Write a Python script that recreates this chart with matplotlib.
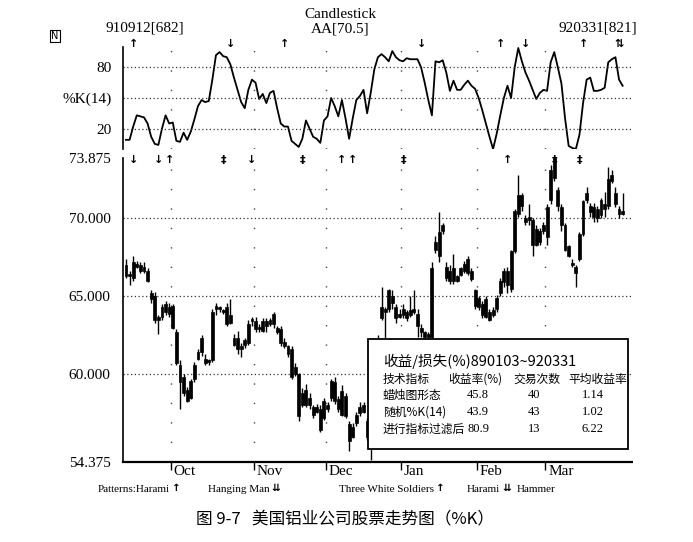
import numpy as np
import matplotlib
matplotlib.use("Agg")
import matplotlib.pyplot as plt
from matplotlib.patches import Rectangle

plt.rcParams['font.family'] = ['Liberation Serif', 'DejaVu Sans']
cjk = ['Noto Sans CJK SC', 'DejaVu Sans']
sym = ['DejaVu Sans']

# daily OHLC for AA, 910912 .. 920331 (trading day index 0..138)
opens = [67.0, 66.3, 66.2, 67.1, 66.6, 66.9, 66.6,
         65.2, 65.0, 63.5, 63.7, 64.0, 64.3, 64.4,
         62.7, 60.6, 59.8, 59.0, 58.5, 59.7, 61.0,
         61.4, 61.0, 60.8, 60.9, 64.2, 64.3, 64.1,
         64.3, 63.8, 62.3, 62.3, 61.8, 61.9, 62.0,
         63.4, 63.4, 62.9, 62.8, 63.1, 63.2, 63.9,
         63.0, 62.9, 62.1, 61.8, 61.6, 60.5, 60.0,
         58.8, 58.0, 58.5, 57.9, 57.6, 57.8, 57.2,
         58.0, 58.5, 59.5, 58.4, 58.9, 58.6, 56.8,
         56.0, 56.9, 57.5, 58.0, 57.0, 56.2, 57.8,
         60.4, 63.6, 64.2, 64.2, 65.0, 64.3, 63.9,
         64.2, 64.0, 63.8, 64.0, 63.9, 63.0, 62.7,
         62.6, 62.4, 68.0, 67.6, 69.2, 66.9, 66.6,
         66.8, 66.3, 66.4, 66.6, 67.4, 66.6, 65.4,
         64.9, 64.5, 63.7, 64.0, 63.8, 64.2, 65.2,
         65.9, 66.6, 65.5, 67.9, 70.3, 71.5, 70.0,
         69.9, 69.9, 68.3, 69.2, 69.2, 68.8, 71.2,
         72.6, 71.8, 70.7, 69.6, 68.2, 67.0, 66.9,
         67.4, 69.0, 71.2, 70.8, 70.7, 70.0, 70.2,
         70.6, 70.8, 72.4, 71.6, 70.6, 70.5]
closes = [66.3, 66.4, 67.2, 66.9, 67.0, 66.6, 66.0,
          64.8, 63.5, 63.7, 64.3, 64.5, 63.9, 63.0,
          60.7, 59.5, 58.8, 58.3, 59.6, 60.6, 61.4,
          62.3, 60.7, 60.9, 64.0, 64.4, 64.2, 64.0,
          63.2, 63.3, 61.9, 61.6, 61.6, 62.2, 63.2,
          63.5, 62.9, 63.0, 63.4, 63.4, 63.5, 63.2,
          62.7, 62.0, 61.8, 61.3, 59.8, 60.0, 57.3,
          58.0, 59.0, 58.0, 57.4, 57.9, 56.4, 58.3,
          57.8, 59.6, 58.3, 57.8, 57.4, 57.3, 55.7,
          56.6, 57.4, 57.9, 57.6, 56.0, 57.5, 60.5,
          62.0, 64.3, 64.0, 65.4, 64.6, 63.6, 63.7,
          63.8, 63.6, 64.1, 64.2, 63.1, 62.7, 62.4,
          62.4, 66.8, 68.5, 69.1, 69.6, 66.2, 66.0,
          66.0, 66.0, 66.8, 67.1, 66.5, 66.1, 64.4,
          64.3, 63.8, 64.8, 63.5, 64.1, 64.9, 66.0,
          66.6, 65.7, 67.9, 70.5, 71.5, 70.8, 69.8,
          70.1, 68.3, 69.3, 68.5, 69.6, 70.7, 73.1,
          73.9, 70.8, 69.6, 68.0, 67.6, 67.1, 66.5,
          69.0, 71.1, 71.6, 70.4, 70.1, 70.6, 71.2,
          70.9, 72.5, 72.8, 70.9, 70.3, 70.3]
highs = [67.4, 66.6, 67.6, 67.3, 67.2, 67.2, 66.8,
         65.4, 65.3, 63.8, 64.5, 64.7, 64.6, 64.5,
         62.9, 60.9, 60.0, 59.2, 59.7, 60.8, 61.6,
         62.5, 61.3, 61.0, 64.2, 64.6, 64.4, 64.2,
         64.6, 64.8, 62.6, 62.8, 62.0, 62.3, 63.5,
         63.7, 63.7, 63.2, 63.6, 63.6, 63.6, 64.0,
         63.1, 63.1, 62.3, 61.9, 61.8, 60.7, 60.1,
         59.1, 59.4, 58.8, 58.0, 58.1, 58.0, 58.5,
         58.2, 59.7, 59.8, 58.6, 59.3, 58.8, 57.0,
         56.9, 57.6, 58.2, 58.2, 57.2, 57.8, 60.7,
         62.5, 65.6, 64.3, 65.5, 65.4, 64.5, 64.2,
         64.5, 64.1, 65.0, 65.4, 64.2, 63.2, 62.8,
         62.7, 67.2, 68.9, 70.4, 69.7, 67.2, 67.0,
         67.7, 66.4, 66.9, 67.3, 67.6, 66.8, 65.5,
         65.0, 64.7, 65.0, 64.2, 64.3, 65.1, 66.2,
         66.8, 66.9, 68.0, 70.6, 72.8, 71.6, 70.2,
         70.9, 70.0, 69.6, 69.4, 69.8, 70.9, 73.4,
         74.0, 72.0, 70.9, 69.7, 68.3, 67.4, 67.0,
         69.1, 71.2, 72.0, 71.0, 71.0, 70.8, 71.3,
         71.7, 73.3, 73.1, 72.0, 70.8, 71.6]
lows = [66.2, 65.7, 66.0, 66.8, 66.5, 66.5, 65.9,
        64.6, 63.3, 62.6, 63.5, 63.8, 63.7, 62.9,
        60.6, 57.8, 58.6, 58.2, 58.4, 59.5, 60.9,
        61.2, 60.6, 60.6, 60.8, 63.8, 64.0, 63.9,
        63.1, 63.2, 61.8, 61.3, 61.1, 61.7, 61.9,
        63.1, 62.7, 62.7, 62.7, 62.7, 63.1, 63.0,
        62.6, 61.8, 61.7, 61.1, 59.7, 59.9, 57.0,
        57.9, 57.9, 57.8, 57.2, 57.5, 56.3, 57.1,
        57.6, 58.3, 58.1, 57.6, 57.3, 57.2, 55.1,
        55.9, 56.7, 57.3, 57.5, 55.8, 54.5, 57.6,
        60.2, 63.5, 62.3, 64.0, 64.2, 63.3, 63.6,
        63.6, 63.4, 63.7, 63.9, 62.4, 62.4, 62.3,
        62.3, 62.3, 67.8, 67.2, 69.0, 66.0, 65.8,
        65.8, 65.9, 66.3, 66.5, 66.4, 66.0, 64.2,
        64.1, 63.6, 63.6, 63.4, 63.7, 64.0, 65.0,
        65.6, 65.2, 65.3, 67.8, 70.1, 70.5, 69.6,
        69.6, 67.6, 68.2, 68.3, 69.0, 68.3, 70.9,
        72.4, 70.5, 69.2, 67.9, 67.5, 66.9, 65.6,
        67.3, 68.9, 71.0, 70.1, 69.8, 69.8, 70.0,
        70.1, 70.6, 72.3, 70.7, 70.0, 70.2]

# stochastic %K(14)
pct_k = [9, 9, 22, 33, 32, 31, 25, 12, 5, 4,
         20, 33, 25, 26, 8, 7, 16, 9, 17, 29,
         42, 48, 46, 47, 68, 92, 95, 91, 90, 83,
         70, 58, 46, 40, 58, 68, 65, 49, 54, 45,
         55, 57, 40, 25, 22, 22, 8, 5, 2, 10,
         28, 20, 12, 10, 6, 28, 32, 50, 42, 32,
         48, 30, 10, 30, 48, 52, 58, 35, 55, 78,
         90, 93, 90, 86, 96, 90, 87, 86, 89, 88,
         88, 88, 80, 65, 48, 33, 86, 85, 87, 75,
         57, 67, 58, 58, 63, 67, 62, 59, 50, 38,
         25, 12, 0, 15, 33, 50, 62, 50, 80, 99,
         86, 75, 67, 58, 49, 55, 58, 57, 85, 95,
         80, 64, 30, 3, 1, 0, 14, 45, 68, 70,
         57, 57, 58, 60, 85, 88, 90, 68, 62]

month_names = ['Oct', 'Nov', 'Dec', 'Jan', 'Feb', 'Mar']
month_start = [13, 36, 56, 77, 98, 117]

# signal arrows (day, symbol)
k_signal_days = [2, 29, 44, 82, 104, 111, 127, 137]
k_signal_syms = ['↑', '↓', '↑', '↓', '↑', '↓', '↑', '⇅']
cs_signal_days = [2, 9, 12, 27, 35, 49, 60, 63, 77, 106, 119, 126]
cs_signal_syms = ['↓', '↓', '↑', '‡', '↓', '‡', '↑', '↑', '‡', '↑', '‡', '‡']

table_title = '收益/损失(%)890103~920331'
table_cols = ['技术指标', '收益率(%)', '交易次数', '平均收益率']
table_rows = ['蜡烛图形态', '随机%K(14)', '进行指标过滤后']
table_ret = ['45.8', '43.9', '80.9']
table_cnt = ['40', '43', '13']
table_avg = ['1.14', '1.02', '6.22']

patterns = [('Patterns:Harami', '↑'), ('Hanging Man', '⇊'),
            ('Three White Soldiers', '↑'), ('Harami', '⇊'), ('Hammer', '')]

W, H = 693, 542
def fx(px):
    return px / W
def fy(py):
    return 1 - py / H

days = np.arange(len(closes))
o = np.array(opens)
c = np.array(closes)

fig = plt.figure(figsize=(W / 100, H / 100), dpi=100)
ax_k = fig.add_axes([fx(123), fy(149), 509 / W, 102 / H])
ax = fig.add_axes([fx(123), fy(462), 509 / W, 304 / H])

xlim = (-0.83, 140.6)
month_pos = [d - 0.5 for d in month_start]

# ---- %K panel ----
ax_k.plot(days, pct_k, color='black', lw=1.3)
ax_k.set_xlim(xlim)
ax_k.set_ylim(0, 100)
for v in [20, 50, 80]:
    ax_k.axhline(v, color='#333333', lw=0.9, ls=(0, (1, 2)))
for p in month_pos:
    ax_k.axvline(p, color='#444444', lw=1.0, ls=(0, (1, 13)))
ax_k.set_yticks([20, 50, 80])
ax_k.set_yticklabels(['20', '%K(14)', '80'], fontsize=11)
ax_k.tick_params(axis='y', length=0, pad=8)
ax_k.set_xticks([])
for s in ['top', 'right', 'bottom']:
    ax_k.spines[s].set_visible(False)
ax_k.spines['left'].set_linewidth(1.2)
for d, s in zip(k_signal_days, k_signal_syms):
    ax_k.text(d, 103, s, ha='center', va='center', fontsize=8,
              fontweight='bold', family=sym, clip_on=False)

# ---- candlestick panel ----
ax.vlines(days, lows, highs, color='black', lw=1.0, zorder=2)
body = np.maximum(np.abs(c - o), 0.12)
ax.bar(days, body, bottom=np.minimum(o, c), width=0.8, color='black',
       edgecolor='black', lw=0.5, zorder=3)
ax.set_xlim(xlim)
ax.set_ylim(54.375, 73.875)
for v in [60, 65, 70]:
    ax.axhline(v, color='#333333', lw=0.9, ls=(0, (1, 2)), zorder=1)
for p in month_pos:
    ax.axvline(p, color='#444444', lw=1.0, ls=(0, (1, 13)), zorder=1)
ax.set_yticks([54.375, 60, 65, 70, 73.875])
ax.set_yticklabels(['54.375', '60.000', '65.000', '70.000', '73.875'], fontsize=11)
ax.tick_params(axis='y', length=0, pad=9)
ax.set_xticks(month_pos)
ax.set_xticklabels([])
ax.tick_params(axis='x', direction='out', length=6, width=1.0)
for s in ['top', 'right']:
    ax.spines[s].set_visible(False)
ax.spines['left'].set_linewidth(1.2)
ax.spines['bottom'].set_linewidth(1.6)
ax.spines['bottom'].set_linestyle((0, (1, 1)))
for p, name in zip(month_pos, month_names):
    ax.annotate(name, (p, 54.375), xytext=(2, -2), textcoords='offset points',
                ha='left', va='top', fontsize=11)
for d, s in zip(cs_signal_days, cs_signal_syms):
    ax.text(d, 73.72, s, ha='center', va='center', fontsize=8,
            fontweight='bold', family=sym, clip_on=False)

# ---- headers ----
fig.text(fx(340), fy(15), 'Candlestick', ha='center', va='center', fontsize=11)
fig.text(fx(340), fy(29), 'AA[70.5]', ha='center', va='center', fontsize=11)
fig.text(fx(105), fy(28), '910912[682]', ha='left', va='center', fontsize=11)
fig.text(fx(637), fy(28), '920331[821]', ha='right', va='center', fontsize=11)
fig.text(fx(55), fy(36), 'N', ha='center', va='center', fontsize=7,
         family=sym, bbox=dict(boxstyle='square,pad=0.15', fc='white', ec='black', lw=0.8))

# ---- result table ----
bx0, by0, bx1, by1 = 368, 339, 628, 449
ax.add_patch(Rectangle((fx(bx0), fy(by1)), (bx1 - bx0) / W, (by1 - by0) / H,
                       transform=fig.transFigure, facecolor='white',
                       edgecolor='black', lw=1.3, zorder=10, clip_on=False))
fig.text(fx(383), fy(361), table_title, ha='left', va='center', fontsize=10.5,
         family=cjk, zorder=11)
col_x = [383, 448, 513, 568]
for xx, t in zip(col_x, table_cols):
    fig.text(fx(xx), fy(379), t, ha='left', va='center', fontsize=8.5, family=cjk, zorder=11)
for j, (name, r, n, a) in enumerate(zip(table_rows, table_ret, table_cnt, table_avg)):
    yy = 395 + 17 * j
    fig.text(fx(383), fy(yy), name, ha='left', va='center', fontsize=8.5, family=cjk, zorder=11)
    fig.text(fx(478), fy(yy), r, ha='center', va='center', fontsize=9, zorder=11)
    fig.text(fx(534), fy(yy), n, ha='center', va='center', fontsize=9, zorder=11)
    fig.text(fx(593), fy(yy), a, ha='center', va='center', fontsize=9, zorder=11)

# ---- pattern legend ----
pat_x = [98, 208, 339, 467, 517]
for xx, (name, s) in zip(pat_x, patterns):
    t = fig.text(fx(xx), fy(489), name, ha='left', va='center', fontsize=8)
    if s:
        fig.canvas.draw()
        bb = t.get_window_extent()
        fig.text(bb.x1 / W + 2 / W, fy(488), s, ha='left', va='center',
                 fontsize=7.5, fontweight='bold', family=sym)

fig.text(fx(345), fy(520), '图 9-7   美国铝业公司股票走势图（%K）', ha='center',
         va='center', fontsize=12, family=cjk)

fig.savefig('out.png', dpi=100)
